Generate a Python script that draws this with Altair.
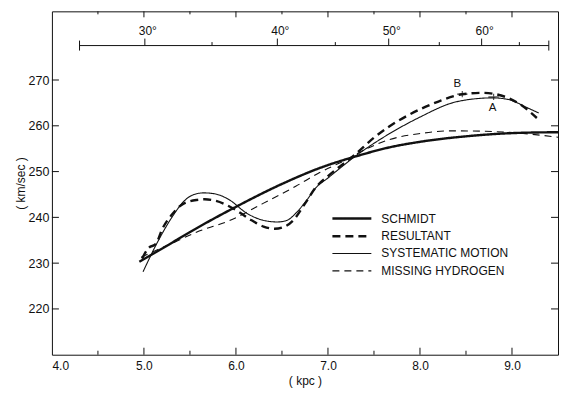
import altair as alt
import pandas as pd

# ---------------- data ----------------
schmidt_kpc = [4.95, 5.25, 5.5, 6.0, 6.5, 6.94, 7.3, 7.67, 8.0, 8.5, 9.0, 9.5]
schmidt_v = [230.3, 233.8, 236.8, 242.3, 247.3, 251.0, 253.3, 255.3, 256.5, 257.7, 258.4, 258.6]

resultant_kpc = [4.98, 5.05, 5.13, 5.2, 5.3, 5.4, 5.57, 5.66, 5.78, 6.0, 6.15, 6.3, 6.42,
                 6.52, 6.62, 6.75, 6.87, 7.0, 7.3, 7.5, 7.67, 8.0, 8.2, 8.46, 8.68, 8.93, 9.08, 9.27]
resultant_v = [231.0, 233.3, 234.2, 237.5, 240.5, 242.6, 243.8, 243.95, 243.6, 241.6, 239.6, 238.0, 237.5,
               237.9, 239.3, 243.0, 246.6, 249.0, 253.8, 257.4, 259.9, 263.6, 265.3, 266.9, 267.2, 266.3, 264.8, 261.7]

systematic_kpc = [4.99, 5.14, 5.32, 5.42, 5.52, 5.65, 5.78, 5.93, 6.11, 6.29, 6.45, 6.55, 6.65, 6.76,
                  6.87, 7.0, 7.3, 7.67, 8.0, 8.35, 8.6, 8.79, 8.97, 9.15, 9.29]
systematic_v = [228.1, 234.3, 240.5, 243.2, 244.8, 245.35, 245.1, 243.8, 241.0, 239.4, 239.0, 239.3, 240.9, 243.5,
                246.5, 248.6, 253.4, 258.3, 261.9, 265.0, 265.9, 266.1, 265.7, 264.1, 262.8]

missing_kpc = [4.97, 5.3, 5.6, 5.93, 6.29, 6.65, 6.91, 7.2, 7.4, 7.67, 8.0, 8.35, 8.71, 9.08, 9.5]
missing_v = [231.3, 234.3, 237.0, 239.3, 243.0, 246.8, 249.8, 252.6, 254.8, 257.0, 258.3, 258.9, 258.8, 258.4, 257.5]

series_names = ["SCHMIDT", "RESULTANT", "SYSTEMATIC MOTION", "MISSING HYDROGEN"]

# points marked A and B
mark_labels = ["B", "A"]
mark_kpc = [8.46, 8.80]
mark_v = [266.9, 266.3]

# axis ticks
x_major = [4.0, 5.0, 6.0, 7.0, 8.0, 9.0]
x_minor = [4.5, 5.5, 6.5, 7.5, 8.5]
y_major = [220, 230, 240, 250, 260, 270]

# longitude scale across the top (degrees and their kpc positions)
deg_major = [30, 40, 50, 60]
deg_major_kpc = [5.01, 6.45, 7.66, 8.67]
deg_minor = [35, 45, 55, 65]
deg_minor_kpc = [5.74, 7.08, 8.21, 9.08]
deg_ends_kpc = [4.30, 9.40]

# ---------------- layout / style ----------------
W, H = 507, 344
FONT = "Liberation Sans"
INK = "#111111"

xscale = alt.Scale(domain=[4.0, 9.5], nice=False, zero=False)
yscale = alt.Scale(domain=[210, 285], nice=False, zero=False)

xaxis = alt.Axis(values=x_major, format=".1f", ticks=False, domain=False, grid=False,
                 labelPadding=6, labelFontSize=12, labelFont=FONT, labelColor=INK,
                 titleFont=FONT, titleFontSize=12, titleFontWeight="normal", titleColor=INK,
                 titlePadding=4)
yaxis = alt.Axis(values=y_major, format="d", ticks=False, domain=False, grid=False,
                 labelPadding=3, labelFontSize=12.5, labelFont=FONT, labelColor=INK,
                 titleFont=FONT, titleFontSize=12, titleFontWeight="normal", titleColor=INK,
                 titlePadding=1)


def X(field="x"):
    return alt.X(field, type="quantitative", scale=xscale, axis=xaxis, title="( kpc )")


def Y(field="y"):
    return alt.Y(field, type="quantitative", scale=yscale, axis=yaxis, title="( km/sec )")


styles = {
    "SCHMIDT": dict(strokeWidth=2.4, strokeDash=[1, 0]),
    "RESULTANT": dict(strokeWidth=2.4, strokeDash=[8, 5]),
    "SYSTEMATIC MOTION": dict(strokeWidth=1.1, strokeDash=[1, 0]),
    "MISSING HYDROGEN": dict(strokeWidth=1.1, strokeDash=[7, 5]),
}
series_data = {
    "SCHMIDT": (schmidt_kpc, schmidt_v),
    "RESULTANT": (resultant_kpc, resultant_v),
    "SYSTEMATIC MOTION": (systematic_kpc, systematic_v),
    "MISSING HYDROGEN": (missing_kpc, missing_v),
}

layers = []
for name in series_names:
    xs, ys = series_data[name]
    df = pd.DataFrame({"x": xs, "y": ys})
    st = styles[name]
    layers.append(
        alt.Chart(df).mark_line(color=INK, interpolate="monotone",
                                strokeWidth=st["strokeWidth"], strokeDash=st["strokeDash"],
                                strokeCap="butt")
        .encode(x=X(), y=Y())
    )

# markers A / B
mdf = pd.DataFrame({"x": mark_kpc, "y": mark_v, "lab": mark_labels})
layers.append(
    alt.Chart(mdf).mark_point(shape="M-1,0H1M0,-0.6V0.6", size=110, filled=False,
                              color=INK, strokeWidth=1.2)
    .encode(x=X(), y=Y())
)
layers.append(
    alt.Chart(mdf[mdf.lab == "B"]).mark_text(font=FONT, fontSize=11.5, color=INK, dx=-5, dy=-10)
    .encode(x=X(), y=Y(), text="lab")
)
layers.append(
    alt.Chart(mdf[mdf.lab == "A"]).mark_text(font=FONT, fontSize=11.5, color=INK, dx=-1, dy=11)
    .encode(x=X(), y=Y(), text="lab")
)

# inward ticks: bottom and top frame
xmaj = pd.DataFrame({"x": x_major[1:]})
xmin = pd.DataFrame({"x": x_minor})
for df, ln in ((xmaj, 7), (xmin, 4)):
    layers.append(alt.Chart(df).mark_rule(color=INK, strokeWidth=1)
                  .encode(x=X(), y=alt.value(H), y2=alt.value(H - ln)))
    layers.append(alt.Chart(df).mark_rule(color=INK, strokeWidth=1)
                  .encode(x=X(), y=alt.value(0), y2=alt.value(ln - 1)))

# inward ticks: left and right frame
ymaj = pd.DataFrame({"y": y_major})
layers.append(alt.Chart(ymaj).mark_rule(color=INK, strokeWidth=1)
              .encode(y=Y(), x=alt.value(0), x2=alt.value(7)))
layers.append(alt.Chart(ymaj).mark_rule(color=INK, strokeWidth=1)
              .encode(y=Y(), x=alt.value(W - 7), x2=alt.value(W)))

# longitude scale at the top
SY = 34.3
ends = pd.DataFrame({"x": [deg_ends_kpc[0]], "x2": [deg_ends_kpc[1]]})
layers.append(alt.Chart(ends).mark_rule(color=INK, strokeWidth=1)
              .encode(x=X(), x2="x2", y=alt.value(SY)))
ends_pts = pd.DataFrame({"x": deg_ends_kpc})
layers.append(alt.Chart(ends_pts).mark_rule(color=INK, strokeWidth=1)
              .encode(x=X(), y=alt.value(SY - 5), y2=alt.value(SY + 5)))
dmaj = pd.DataFrame({"x": deg_major_kpc, "lab": [f"{d}°" for d in deg_major]})
dmin = pd.DataFrame({"x": deg_minor_kpc})
layers.append(alt.Chart(dmaj).mark_rule(color=INK, strokeWidth=1)
              .encode(x=X(), y=alt.value(SY - 7), y2=alt.value(SY)))
layers.append(alt.Chart(dmin).mark_rule(color=INK, strokeWidth=1)
              .encode(x=X(), y=alt.value(SY - 3.5), y2=alt.value(SY)))
layers.append(alt.Chart(dmaj).mark_text(font=FONT, fontSize=12, color=INK, baseline="middle",
                                        align="center", dx=3)
              .encode(x=X(), y=alt.value(SY - 15), text="lab"))

# legend
LX0, LX1, LT = 281, 320, 330
row_y = [207.6, 225.3, 242.6, 260.0]
for name, ry in zip(series_names, row_y):
    st = styles[name]
    ldf = pd.DataFrame({"label": [name]})
    layers.append(alt.Chart(ldf).mark_rule(color=INK, strokeWidth=st["strokeWidth"],
                                           strokeDash=st["strokeDash"], strokeCap="butt")
                  .encode(x=alt.value(LX0), x2=alt.value(LX1), y=alt.value(ry)))
    layers.append(alt.Chart(ldf).mark_text(font=FONT, fontSize=12, color=INK, align="left",
                                           baseline="middle")
                  .encode(x=alt.value(LT), y=alt.value(ry), text="label:N"))

chart = (
    alt.layer(*layers)
    .properties(width=W, height=H, background="white",
                padding={"left": 44, "top": 3, "right": 4, "bottom": 34},
                autosize=alt.AutoSizeParams(type="none"))
    .configure_view(stroke=INK, strokeWidth=1)
)

chart.save("out.html", embed_options={"renderer": "svg", "actions": False})
